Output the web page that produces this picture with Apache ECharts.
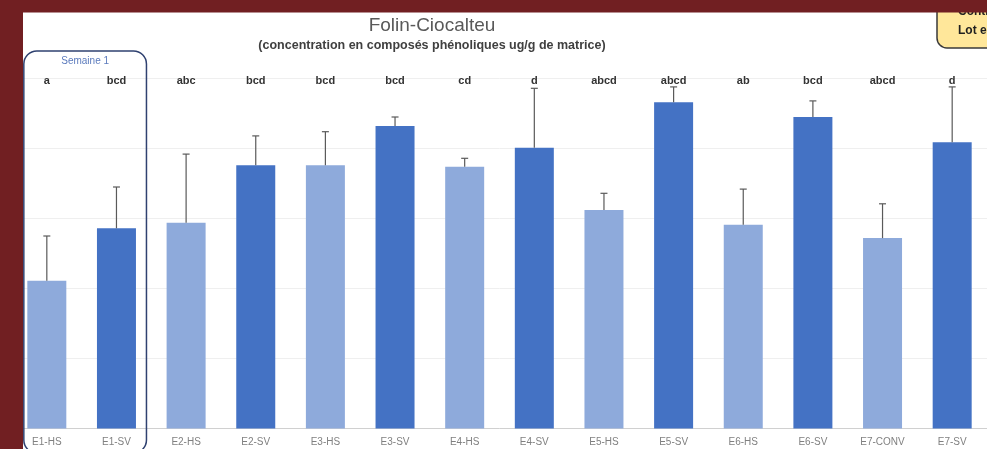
<!DOCTYPE html>
<html>
<head>
<meta charset="utf-8">
<script src="https://cdn.jsdelivr.net/npm/echarts@6/dist/echarts.min.js"></script>
<style>
  html, body { margin: 0; padding: 0; background: #ffffff; }
  #chart { width: 987px; height: 449px; }
</style>
</head>
<body>
<div id="chart"></div>
<script>
// Samples (week / treatment)
const categories = ['E1-HS', 'E1-SV', 'E2-HS', 'E2-SV', 'E3-HS', 'E3-SV', 'E4-HS', 'E4-SV',
                    'E5-HS', 'E5-SV', 'E6-HS', 'E6-SV', 'E7-CONV', 'E7-SV'];
// Mean phenolic content (ug/g)
const means = [211, 286, 294, 376, 376, 432, 374, 401, 312, 466, 291, 445, 272, 409];
// Standard deviation (plus side only)
const errors = [64, 59, 98, 42, 48, 13, 12, 85, 24, 22, 51, 23, 49, 79];
// Statistical group letters
const groups = ['a', 'bcd', 'abc', 'bcd', 'bcd', 'bcd', 'cd', 'd', 'abcd', 'abcd', 'ab', 'bcd', 'abcd', 'd'];
// Value axis ticks
const yTicks = [0, 100, 200, 300, 400, 500];

const LIGHT = '#8eaadb';
const DARK = '#4472c4';
const BORDER_RED = '#711f22';
const FONT = 'Liberation Sans, Arial, sans-serif';

const chart = echarts.init(document.getElementById('chart'), null, { renderer: 'canvas' });

const barData = means.map((v, i) => ({
  value: v,
  itemStyle: { color: categories[i].endsWith('SV') ? DARK : LIGHT }
}));
const errData = means.map((v, i) => [i, v, errors[i]]);
const letterData = groups.map((g, i) => [i, yTicks[yTicks.length - 1], g]);

chart.setOption({
  animation: false,
  backgroundColor: '#ffffff',
  textStyle: { fontFamily: FONT },
  title: {
    text: 'Folin-Ciocalteu',
    subtext: '(concentration en composés phénoliques ug/g de matrice)',
    left: 427,
    textAlign: 'center',
    top: 11,
    itemGap: 4,
    textStyle: { fontSize: 19, fontWeight: 'normal', color: '#595959', fontFamily: FONT },
    subtextStyle: { fontSize: 12.5, fontWeight: 'bold', color: '#404040', fontFamily: FONT }
  },
  grid: { left: 12, right: 0, top: 78.5, bottom: 20.5, containLabel: false },
  xAxis: {
    type: 'category',
    data: categories,
    axisLine: { show: true, lineStyle: { color: '#d0d0d0', width: 1 } },
    axisTick: { show: false },
    axisLabel: { color: '#808080', fontSize: 10, margin: 9, interval: 0 }
  },
  yAxis: {
    type: 'value',
    min: yTicks[0],
    max: yTicks[yTicks.length - 1],
    interval: yTicks[1] - yTicks[0],
    axisLabel: { show: false },
    axisLine: { show: false },
    axisTick: { show: false },
    splitLine: { lineStyle: { color: '#efefef', width: 1 } }
  },
  series: [
    {
      type: 'bar',
      data: barData,
      barWidth: 39,
      z: 2
    },
    {
      type: 'custom',
      z: 3,
      data: errData,
      renderItem: function (params, api) {
        const base = api.coord([api.value(0), api.value(1)]);
        const top = api.coord([api.value(0), api.value(1) + api.value(2)]);
        const style = { stroke: '#5a5a5a', lineWidth: 1.2 };
        return {
          type: 'group',
          children: [
            { type: 'line', shape: { x1: base[0], y1: base[1], x2: top[0], y2: top[1] }, style: style },
            { type: 'line', shape: { x1: top[0] - 3.5, y1: top[1], x2: top[0] + 3.5, y2: top[1] }, style: style }
          ]
        };
      }
    },
    {
      type: 'custom',
      z: 4,
      clip: false,
      data: letterData,
      renderItem: function (params, api) {
        const p = api.coord([api.value(0), api.value(1)]);
        return {
          type: 'text',
          x: p[0],
          y: p[1] + 2,
          style: {
            text: groups[params.dataIndex],
            fill: '#333333',
            font: 'bold 11px ' + FONT,
            align: 'center',
            verticalAlign: 'middle'
          }
        };
      }
    }
  ]
});

// Annotation frames and the surrounding slide border
const c0 = chart.convertToPixel({ xAxisIndex: 0 }, 0);
const c1 = chart.convertToPixel({ xAxisIndex: 0 }, 1);
const boxLeft = c0 - 23;
const boxRight = c1 + 30;

chart.setOption({
  graphic: [
    {
      type: 'rect', z: 20,
      shape: { x: boxLeft, y: 51, width: boxRight - boxLeft, height: 402, r: 13 },
      style: { fill: 'transparent', stroke: '#2f4170', lineWidth: 1.5 }
    },
    {
      type: 'text', z: 21,
      x: (boxLeft + boxRight) / 2, y: 61,
      style: { text: 'Semaine 1', fill: '#5b7bbd', font: '10px ' + FONT, align: 'center', verticalAlign: 'middle' }
    },
    {
      type: 'rect', z: 20,
      shape: { x: 937, y: -10, width: 80, height: 58, r: 10 },
      style: { fill: '#ffe79a', stroke: '#3a3a3a', lineWidth: 1.5 }
    },
    {
      type: 'text', z: 21, x: 958, y: 12,
      style: { text: 'Contrôle', fill: '#1f1f1f', font: 'bold 12px ' + FONT, verticalAlign: 'middle' }
    },
    {
      type: 'text', z: 21, x: 958, y: 31,
      style: { text: 'Lot expérimental', fill: '#1f1f1f', font: 'bold 12px ' + FONT, verticalAlign: 'middle' }
    },
    {
      type: 'rect', z: 30,
      shape: { x: 0, y: 0, width: 987, height: 12.5 },
      style: { fill: BORDER_RED }
    },
    {
      type: 'rect', z: 30,
      shape: { x: 0, y: 0, width: 23, height: 449 },
      style: { fill: BORDER_RED }
    }
  ]
});
</script>
</body>
</html>
